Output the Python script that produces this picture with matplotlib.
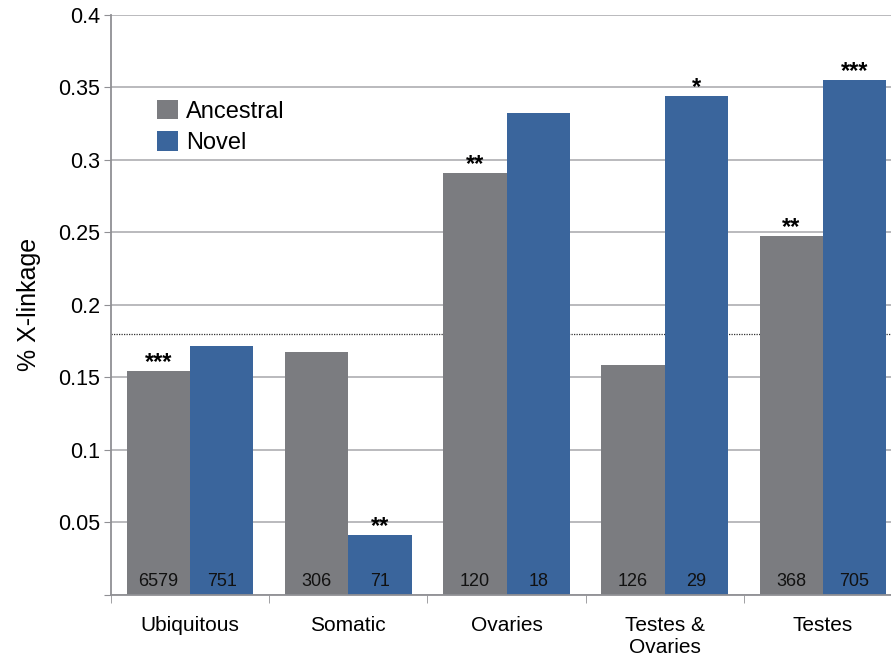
import numpy as np
import matplotlib.pyplot as plt

plt.rcParams['font.family'] = ['Liberation Sans', 'DejaVu Sans']

categorias = ["Ubiquitous", "Somatic", "Ovaries", "Testes &\nOvaries", "Testes"]
ancestral = [0.1544, 0.1675, 0.2912, 0.1585, 0.2476]
novel = [0.1719, 0.0410, 0.3324, 0.3440, 0.3554]
n_ancestral = [6579, 306, 120, 126, 368]
n_novel = [751, 71, 18, 29, 705]
sig_ancestral = ["***", "", "**", "", "**"]
sig_novel = ["", "**", "", "*", "***"]
linea_ref = 0.18

gris = "#7b7c80"
azul = "#3a659c"

fig = plt.figure(figsize=(8.91, 6.58), dpi=100)
ax = fig.add_axes([0.1246, 0.0962, 0.8878, 0.881])

x = np.arange(len(categorias))
w = 0.4

# líneas de fondo
ax.set_axisbelow(True)
ax.yaxis.grid(True, color="#b4b4b8", linewidth=1.3)
ax.axhline(linea_ref, color="#333333", linestyle=(0, (1, 1)), linewidth=0.9, zorder=1)

b1 = ax.bar(x - w / 2, ancestral, w, color=gris, label="Ancestral", zorder=2)
b2 = ax.bar(x + w / 2, novel, w, color=azul, label="Novel", zorder=2)

for i in range(len(categorias)):
    ax.text(x[i] - w / 2, 0.003, str(n_ancestral[i]), ha="center", va="bottom",
            fontsize=13, color="#111111")
    ax.text(x[i] + w / 2, 0.003, str(n_novel[i]), ha="center", va="bottom",
            fontsize=13, color="#111111")
    if sig_ancestral[i]:
        ax.text(x[i] - w / 2, ancestral[i] - 0.002, sig_ancestral[i], ha="center",
                va="bottom", fontsize=17, fontweight="bold")
    if sig_novel[i]:
        ax.text(x[i] + w / 2, novel[i] - 0.002, sig_novel[i], ha="center",
                va="bottom", fontsize=17, fontweight="bold")

ax.set_xlim(-0.5, 4.5)
ax.set_ylim(0, 0.4)
yt = np.arange(0, 0.401, 0.05)
ax.set_yticks(yt)
ax.set_yticklabels([""] + ["%g" % round(v, 2) for v in yt[1:]], fontsize=15.5)
ax.tick_params(axis="y", length=5, color="#909094", pad=3)

ax.set_xticks(x)
ax.set_xticklabels(categorias, fontsize=15)
ax.tick_params(axis="x", length=0, pad=15)
ax.set_xticks(np.arange(-0.5, 5, 1), minor=True)
ax.tick_params(axis="x", which="minor", length=6, color="#909094")

for s in ["top", "right"]:
    ax.spines[s].set_visible(False)
ax.spines["left"].set_color("#909094")
ax.spines["bottom"].set_color("#909094")
ax.spines["left"].set_linewidth(1.3)
ax.spines["bottom"].set_linewidth(1.3)

ax.set_ylabel("% X-linkage", fontsize=18, labelpad=12)

ax.legend(loc="upper left", bbox_to_anchor=(0.046, 0.87), frameon=False,
          fontsize=17, handlelength=0.9, handleheight=0.9, handletextpad=0.35,
          labelspacing=0.35, borderaxespad=0)

fig.savefig("out.png", dpi=100)
